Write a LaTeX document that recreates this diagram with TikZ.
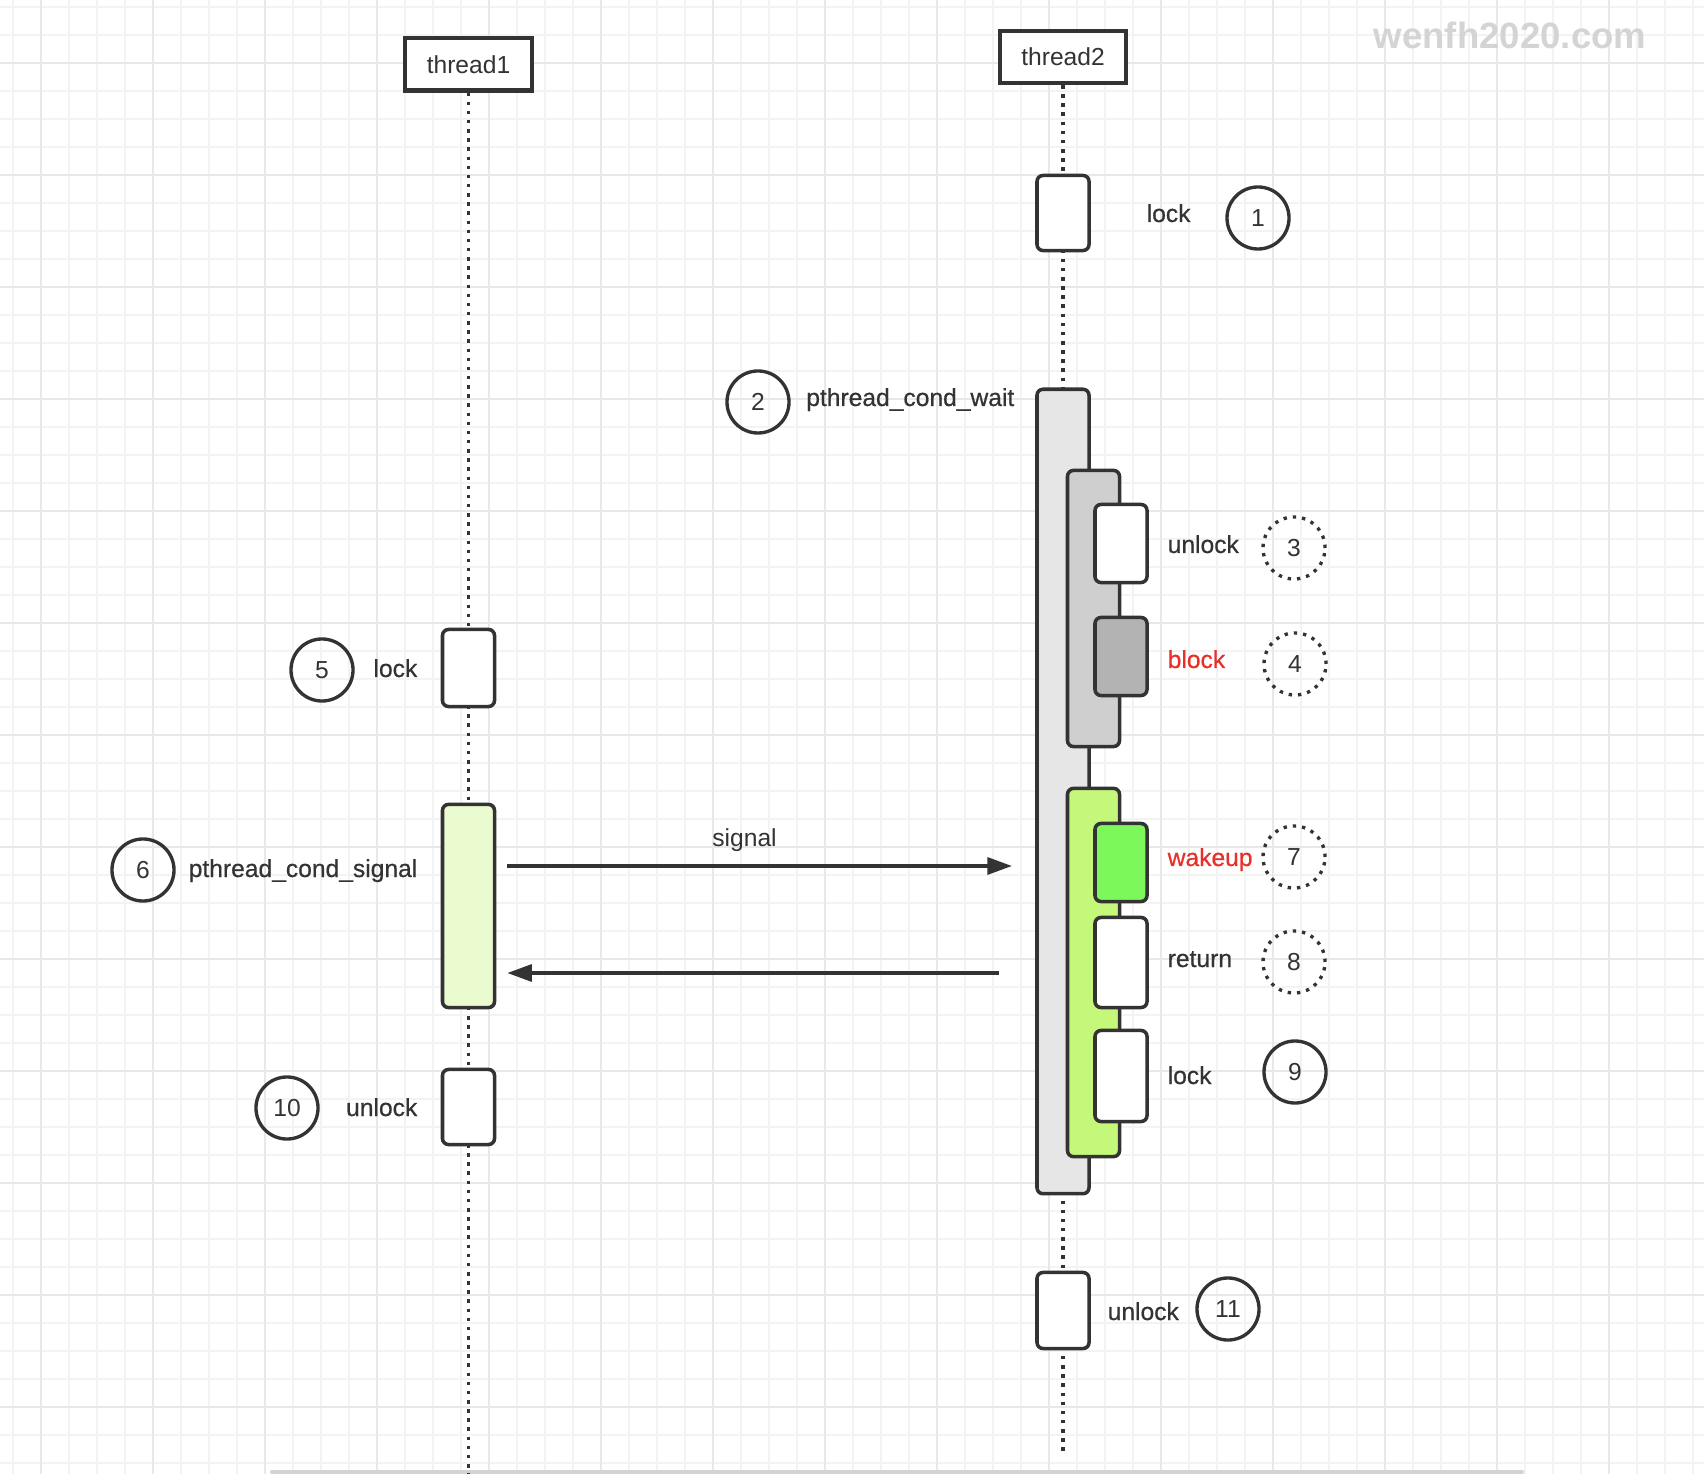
\documentclass[tikz,border=0pt]{standalone}
\usepackage{fontspec}
\setmainfont{Liberation Sans}
\newfontfamily\medfont{Liberation Sans}[FakeBold=0.6]
\usetikzlibrary{arrows.meta}
\definecolor{Ink}{HTML}{333333}
\definecolor{Wait}{HTML}{E6E6E6}
\definecolor{Hold}{HTML}{CFCFCF}
\definecolor{Block}{HTML}{B3B3B3}
\definecolor{Wake}{HTML}{C5F87A}
\definecolor{Wakeup}{HTML}{7DF85A}
\definecolor{Signal}{HTML}{EBFBD0}
\definecolor{Alert}{HTML}{E8302A}
\definecolor{Mark}{HTML}{D4D4D4}
\definecolor{GridMinor}{HTML}{F3F3F3}
\definecolor{GridMajor}{HTML}{E8E8E8}
\begin{document}
\begin{tikzpicture}[x=.01cm,y=-.01cm,
        head/.style={draw=Ink,line width=1.15pt,fill=white,minimum width=1.26cm,minimum height=.52cm,inner sep=0pt,text=Ink,font=\fontsize{7}{8}\selectfont},
        act/.style={draw=Ink,line width=1pt,rounded corners=1.7pt,fill=white,minimum width=.52cm,inner sep=0pt},
        life/.style={draw=Ink,line width=1pt,dash pattern=on 1pt off 1.6pt},
        lbl/.style={text=Ink,inner sep=0pt,font=\fontsize{7}{8}\medfont},
        num/.style={circle,draw=Ink,line width=.95pt,minimum size=.62cm,inner sep=0pt,text=Ink,font=\fontsize{7}{8}\selectfont},
        numdot/.style={num,dash pattern=on .95pt off 1.7pt},
        msg/.style={draw=Ink,line width=1pt,-{Triangle[length=7pt,width=4.8pt]}}]
        \useasboundingbox[fill=white](0,0)rectangle(1704,1474);
        \foreach\gx in{13,41,...,1704}\draw[GridMinor,line width=.55pt](\gx,0)--(\gx,1474);
        \foreach\gy in{7,35,...,1474}\draw[GridMinor,line width=.55pt](0,\gy)--(1704,\gy);
        \foreach\gx in{41,153,...,1704}\draw[GridMajor,line width=.75pt](\gx,0)--(\gx,1474);
        \foreach\gy in{63,175,...,1474}\draw[GridMajor,line width=.75pt](0,\gy)--(1704,\gy);
        \draw[line width=1.15pt,color=GridMajor!80!gray,line cap=round](272,1472)--(1522,1472);
        \node[font=\fontsize{10.4}{12}\selectfont\bfseries,text=Mark,anchor=base](mark)at(1510,49){wenfh2020.com};
        \node[head](t1)at(468.5,64.5){thread1};
        \node[head](t2)at(1063,57){thread2};
        \coordinate(t1end)at(468.5,1474);
        \coordinate(t2end)at(1063,1455);
        \draw[life](t1.south)--(t1end);
        \draw[life](t2.south)--(t2end);
        \node[act,minimum height=.75cm](lk1)at(1063,213){};
        \node[act,fill=Wait,minimum height=8.04cm](wt)at(1063,791.5){};
        \node[act,fill=Hold,minimum height=2.76cm](hold)at(1093.5,608.5){};
        \node[act,minimum height=.78cm](unl3)at(1121,543.5){};
        \node[act,fill=Block,minimum height=.78cm](blk)at(1121,656.5){};
        \node[act,fill=Wake,minimum height=3.68cm](wake)at(1093.5,972.5){};
        \node[act,fill=Wakeup,minimum height=.78cm](wk)at(1121,862.5){};
        \node[act,minimum height=.9cm](rt)at(1121,962.5){};
        \node[act,minimum height=.91cm](lk9)at(1121,1076){};
        \node[act,minimum height=.76cm](unl11)at(1063,1310.5){};
        \node[act,minimum height=.77cm](lk5)at(468.5,668){};
        \node[act,fill=Signal,minimum height=2.03cm](sg)at(468.5,906){};
        \node[act,minimum height=.75cm](unl10)at(468.5,1107){};
        \coordinate(sigtip)at(1012,866);
        \coordinate(retout)at(999,973);
        \draw[msg]([xshift=.11cm]sg.east|-sigtip)--(sigtip)node[lbl,font=\fontsize{7}{8}\selectfont,pos=.47,anchor=base,yshift=.19cm]{signal};
        \draw[msg](retout)--([xshift=.11cm]sg.east|-retout);
        \node[lbl,anchor=base west](lk1l)at(1146,222){lock};
        \node[lbl,anchor=base east](wtl)at(1015,406){pthread\_cond\_wait};
        \node[lbl,anchor=base west](unl3l)at(1167,553){unlock};
        \node[lbl,text=Alert,anchor=base west](blkl)at(1167,668){block};
        \node[lbl,text=Alert,anchor=base west](wkl)at(1167,866){wakeup};
        \node[lbl,anchor=base west](rtl)at(1167,967){return};
        \node[lbl,anchor=base west](lk9l)at(1167,1084){lock};
        \node[lbl,anchor=base west](unl11l)at(1107,1320){unlock};
        \node[lbl,anchor=base east](lk5l)at(418,677){lock};
        \node[lbl,anchor=base east](sgl)at(418,877){pthread\_cond\_signal};
        \node[lbl,anchor=base east](unl10l)at(418,1116){unlock};
        \node[num](n1)at(1258,218){1};
        \node[num](n2)at(758,402){2};
        \node[numdot](n3)at(1294,548){3};
        \node[numdot](n4)at(1295,664){4};
        \node[num](n5)at(322,670){5};
        \node[num](n6)at(143,870){6};
        \node[numdot](n7)at(1294,857){7};
        \node[numdot](n8)at(1294,962){8};
        \node[num](n9)at(1295,1072){9};
        \node[num](n10)at(287,1108){10};
        \node[num](n11)at(1228,1309){11};
      \end{tikzpicture}
\end{document}
